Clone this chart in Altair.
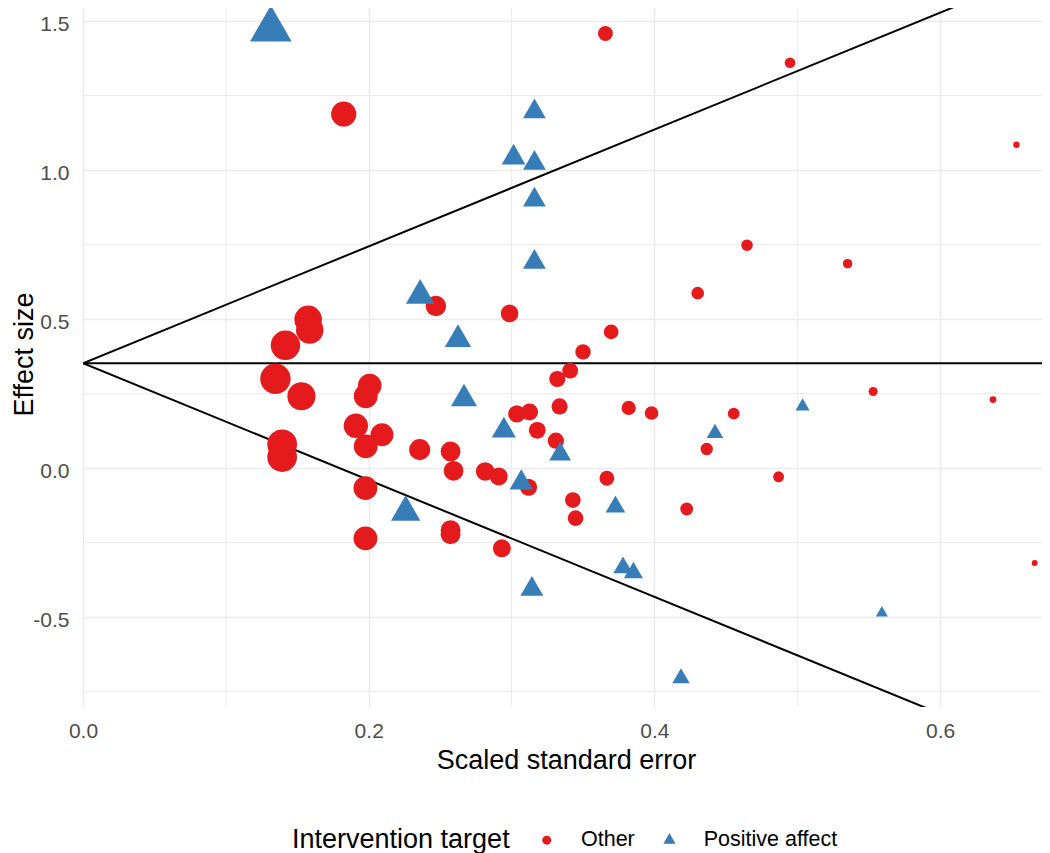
import altair as alt
import pandas as pd

# ---- data ----
other_se = [0.1825, 0.3657, 0.4949, 0.6534, 0.4648, 0.5352, 0.4303, 0.247, 0.2986, 0.3697,
            0.350, 0.341, 0.332, 0.1576, 0.1587, 0.1417, 0.1347, 0.1529, 0.1394, 0.1394,
            0.2007, 0.1979, 0.191, 0.2093, 0.1979, 0.2357, 0.5531, 0.637, 0.4555, 0.4366,
            0.4869, 0.4226, 0.6662, 0.3336, 0.382, 0.398, 0.3037, 0.3126, 0.318, 0.331,
            0.2573, 0.2594, 0.2815, 0.291, 0.3119, 0.3667, 0.3429, 0.3448, 0.1977, 0.2573,
            0.2573, 0.1977, 0.2932]
other_es = [1.188, 1.458, 1.360, 1.085, 0.748, 0.686, 0.587, 0.544, 0.519, 0.457,
            0.390, 0.327, 0.299, 0.499, 0.463, 0.412, 0.300, 0.241, 0.080, 0.037,
            0.277, 0.241, 0.142, 0.112, 0.073, 0.062, 0.257, 0.230, 0.183, 0.064,
            -0.029, -0.137, -0.318, 0.207, 0.202, 0.185, 0.182, 0.188, 0.127, 0.092,
            0.056, -0.009, -0.011, -0.028, -0.064, -0.034, -0.107, -0.168, -0.067, -0.208,
            -0.222, -0.2355, -0.269]
pos_se = [0.1315, 0.316, 0.3014, 0.316, 0.316, 0.316, 0.236, 0.2625, 0.2667, 0.2946,
          0.334, 0.3068, 0.3727, 0.2259, 0.378, 0.3853, 0.3142, 0.5037, 0.4424, 0.5592,
          0.4186]
pos_es = [1.472, 1.196, 1.042, 1.023, 0.900, 0.691, 0.579, 0.432, 0.233, 0.126,
          0.047, -0.049, -0.130, -0.148, -0.334, -0.351, -0.406, 0.207, 0.117, -0.486,
          -0.705]
groups = ["Other", "Positive affect"]
group_colors = ["#E41A1C", "#377EB8"]

summary_es = 0.352
z_crit = 1.96

x_ticks = [0.0, 0.2, 0.4, 0.6]
y_ticks = [-0.5, 0.0, 0.5, 1.0, 1.5]
x_minor = [0.1, 0.3, 0.5]
y_minor = [-0.75, -0.25, 0.25, 0.75, 1.25]
x_dom = [0.0, 0.6713]
y_dom = [-0.8014, 1.5437]

# ---- tables ----
pts = pd.DataFrame({
    "se": other_se + pos_se,
    "es": other_es + pos_es,
    "target": [groups[0]] * len(other_se) + [groups[1]] * len(pos_se),
})

funnel_end = 0.8
funnel = pd.DataFrame({
    "se": [0.0, funnel_end, 0.0, funnel_end, 0.0, funnel_end],
    "es": [summary_es, summary_es,
           summary_es, summary_es + z_crit * funnel_end,
           summary_es, summary_es - z_crit * funnel_end],
    "line": ["mean", "mean", "upper", "upper", "lower", "lower"],
})
vminor = pd.DataFrame({"se": x_minor})
hminor = pd.DataFrame({"es": y_minor})

FONT = "Liberation Sans"
GRID = "#EBEBEB"
TRI = "M0,-1.5588L1.35,0.7794L-1.35,0.7794Z"

x_axis = alt.Axis(values=x_ticks, format=".1f", title="Scaled standard error",
                  grid=True, gridColor=GRID, gridWidth=1.6, ticks=False, tickSize=0,
                  domain=False, labelFontSize=21, labelColor="#4D4D4D", labelPadding=13,
                  labelFlush=False, titleFontSize=27, titleFontWeight="normal",
                  titleColor="black", titleX=483, titleY=61, titleBaseline="alphabetic",
                  titleLimit=600)
y_axis = alt.Axis(values=y_ticks, title="Effect size",
                  labelExpr="replace(format(datum.value, '.1f'), '\u2212', '-')",
                  grid=True, gridColor=GRID, gridWidth=1.6, ticks=False, tickSize=0,
                  domain=False, labelFontSize=21, labelColor="#4D4D4D", labelPadding=14,
                  labelOffset=3, labelFlush=False, titleFontSize=27, titleFontWeight="normal",
                  titleColor="black", titleX=-51, titleY=346, titleBaseline="alphabetic",
                  titleAngle=270, titleLimit=600)

x_scale = alt.Scale(domain=x_dom, nice=False, zero=False)
y_scale = alt.Scale(domain=y_dom, nice=False, zero=False)

def X():
    return alt.X("se:Q", scale=x_scale, axis=x_axis)

def Y():
    return alt.Y("es:Q", scale=y_scale, axis=y_axis)

vgrid = alt.Chart(vminor).mark_rule(color=GRID, strokeWidth=1).encode(x=X())
hgrid = alt.Chart(hminor).mark_rule(color=GRID, strokeWidth=1).encode(y=Y())

lines = alt.Chart(funnel).mark_line(color="black", strokeWidth=2, clip=True).encode(
    x=X(), y=Y(), detail="line:N")

legend = alt.Legend(title="Intervention target", orient="none", legendX=209, legendY=821,
                    direction="horizontal", titleOrient="left", titleFontSize=27,
                    titleFontWeight="normal", titleColor="black", titlePadding=26,
                    titleLimit=600, labelLimit=400,
                    labelFontSize=21.5, labelColor="black", labelOffset=23.5,
                    columnPadding=23.7, symbolSize=81, symbolStrokeWidth=0, padding=0)

points = alt.Chart(pts).mark_point(filled=True, opacity=1, strokeWidth=0).encode(
    x=X(), y=Y(),
    color=alt.Color("target:N", scale=alt.Scale(domain=groups, range=group_colors),
                    legend=legend),
    shape=alt.Shape("target:N", scale=alt.Scale(domain=groups, range=["circle", TRI]),
                    legend=legend),
    size=alt.Size("se:Q", scale=alt.Scale(type="pow", exponent=-1,
                                          domain=[0.1315, 0.6662], range=[950, 36]),
                  legend=None),
)

chart = alt.layer(vgrid, hgrid, lines, points).properties(
    width=959, height=699,
    padding={"left": 75, "top": 0, "right": 0, "bottom": 146},
    autosize=alt.AutoSizeParams(type="none"),
).configure(font=FONT).configure_view(stroke=None)

chart.save("out.html", embed_options={"renderer": "svg", "actions": False})
